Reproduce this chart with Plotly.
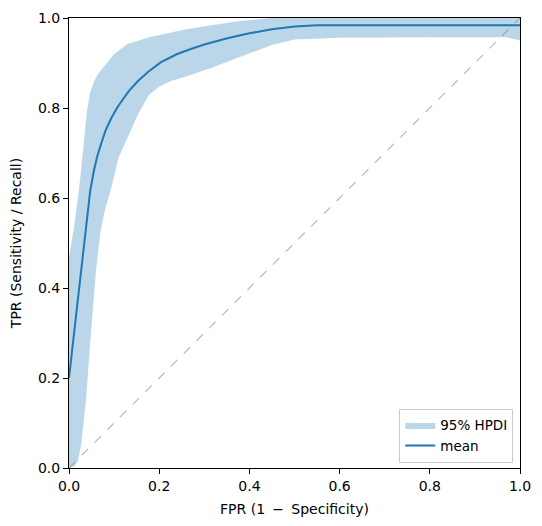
import plotly.graph_objects as go

# mean ROC curve
mean_fpr = [0.0, 0.01, 0.02, 0.03, 0.038, 0.047, 0.055, 0.062, 0.07, 0.081, 0.093,
            0.107, 0.12, 0.133, 0.153, 0.175, 0.204, 0.24, 0.27, 0.30, 0.351, 0.4,
            0.45, 0.5, 0.55, 0.7, 0.85, 1.0]
mean_tpr = [0.2, 0.286, 0.372, 0.458, 0.527, 0.616, 0.66, 0.69, 0.717, 0.75, 0.776,
            0.801, 0.82, 0.838, 0.86, 0.88, 0.902, 0.92, 0.931, 0.941, 0.955, 0.966,
            0.975, 0.981, 0.984, 0.984, 0.984, 0.984]

# 95% HPDI band edges
upper_fpr = [0.0, 0.01, 0.022, 0.033, 0.04, 0.047, 0.055, 0.064, 0.086, 0.1, 0.13,
             0.18, 0.26, 0.37, 0.45, 0.5, 0.75, 1.0]
upper_tpr = [0.47, 0.527, 0.616, 0.727, 0.794, 0.835, 0.858, 0.875, 0.904, 0.92, 0.942,
             0.958, 0.975, 0.992, 1.0, 1.0, 1.0, 1.0]
lower_fpr = [0.0, 0.012, 0.02, 0.027, 0.038, 0.049, 0.06, 0.07, 0.08, 0.092, 0.11,
             0.13, 0.155, 0.178, 0.2, 0.226, 0.263, 0.315, 0.396, 0.45, 0.5, 0.6,
             0.8, 0.97, 0.987, 1.0]
lower_tpr = [0.0, 0.004, 0.016, 0.053, 0.156, 0.304, 0.44, 0.527, 0.575, 0.616, 0.69,
             0.735, 0.79, 0.83, 0.848, 0.86, 0.871, 0.889, 0.92, 0.94, 0.952, 0.956,
             0.957, 0.957, 0.953, 0.95]

blue = "#1f77b4"
band = "rgba(31,119,180,0.3)"

fig = go.Figure()

# band as closed polygon: upper edge left->right, lower edge right->left
fig.add_trace(go.Scatter(
    x=upper_fpr + lower_fpr[::-1], y=upper_tpr + lower_tpr[::-1],
    fill="toself", fillcolor=band, line=dict(width=0), mode="lines",
    name="95% HPDI", hoverinfo="skip"))

fig.add_trace(go.Scatter(
    x=mean_fpr, y=mean_tpr, mode="lines", line=dict(color=blue, width=2),
    name="mean"))

# chance diagonal
fig.add_trace(go.Scatter(
    x=[0, 1], y=[0, 1], mode="lines", showlegend=False,
    line=dict(color="rgba(128,128,128,0.55)", width=1.2, dash="dash")))

axis = dict(range=[0, 1], showgrid=False, zeroline=False, showline=True, mirror=True,
            linecolor="black", linewidth=1, ticks="outside", ticklen=5, tickcolor="black",
            tickvals=[0, 0.2, 0.4, 0.6, 0.8, 1.0], tickformat=".1f", automargin=False,
            tickfont=dict(size=14, color="black"))

# page body adds ~7px offset, so margins are shifted to keep the plot box in place
fig.update_layout(
    width=542, height=526,
    margin=dict(l=61, r=30, t=10, b=66),
    plot_bgcolor="white", paper_bgcolor="white",
    font=dict(family="DejaVu Sans", size=14, color="black"),
    xaxis=dict(axis, title=dict(text="FPR (1\u2009 − \u2009Specificity)", standoff=11,
                                font=dict(size=14))),
    yaxis=dict(axis, title=dict(text="TPR (Sensitivity / Recall)", standoff=13,
                                font=dict(size=14))),
    legend=dict(x=0.985, y=0.012, xanchor="right", yanchor="bottom",
                bgcolor="rgba(255,255,255,0.8)", bordercolor="#cccccc", borderwidth=1,
                itemwidth=30, tracegroupgap=0, font=dict(size=13.5)),
)

fig.write_html("out.html")
